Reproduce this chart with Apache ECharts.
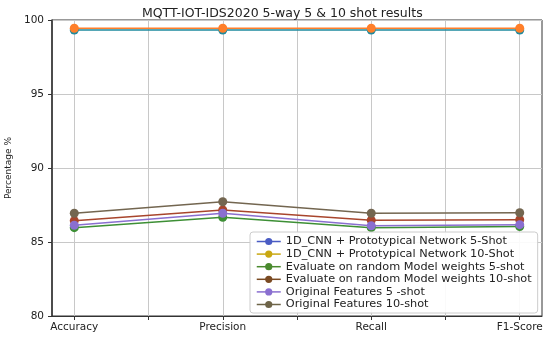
<!DOCTYPE html>
<html><head><meta charset="utf-8">
<script src="https://cdn.jsdelivr.net/npm/echarts@6/dist/echarts.min.js"></script>
<style>html,body{margin:0;padding:0;background:#fff}#c{width:550px;height:337px}</style>
</head><body><div id="c"></div>
<script>
const categories = ['Accuracy', 'Precision', 'Recall', 'F1-Score'];
const seriesNames = [
  '1D_CNN + Prototypical Network 5-Shot',
  '1D_CNN + Prototypical Network 10-Shot',
  'Evaluate on random Model weights 5-shot',
  'Evaluate on random Model weights 10-shot',
  'Original Features 5 -shot',
  'Original Features 10-shot'
];
const cnn5 = [99.32, 99.32, 99.32, 99.32];
const cnn10 = [99.44, 99.44, 99.44, 99.44];
const eval5 = [85.97, 86.67, 85.97, 86.04];
const eval10 = [86.44, 87.16, 86.47, 86.50];
const orig5 = [86.13, 86.94, 86.10, 86.17];
const orig10 = [86.94, 87.72, 86.94, 86.98];
const yTicks = [80, 85, 90, 95, 100];

const values = [cnn5, cnn10, eval5, eval10, orig5, orig10];
const lineColors = ['#1f8a9e', '#ff7f2a', '#3d8f35', '#a8452c', '#8a6fd0', '#736650'];
const legendColors = ['#4a5cc4', '#c9a812', '#4a8a2e', '#7a4a22', '#8a6fd0', '#6e6448'];

const chart = echarts.init(document.getElementById('c'));
const font = 'DejaVu Sans';
chart.setOption({
  animation: false,
  textStyle: { fontFamily: font },
  title: {
    text: 'MQTT-IOT-IDS2020 5-way 5 & 10 shot results',
    left: 137, top: 2,
    textStyle: { fontSize: 12.5, fontWeight: 'normal', color: '#222', fontFamily: font }
  },
  grid: { left: 52, right: 8, top: 20, bottom: 21, show: true, borderColor: '#333', borderWidth: 1,
          containLabel: false, outerBoundsMode: 'none' },
  legend: {
    orient: 'vertical', left: 250, top: 232,
    itemWidth: 24, itemHeight: 9, itemGap: 1.6,
    padding: [4, 6, 3, 6],
    backgroundColor: 'rgba(255,255,255,0.9)', borderColor: '#ccc', borderWidth: 1, borderRadius: 3,
    textStyle: { fontSize: 11.3, lineHeight: 10, color: '#222', fontFamily: font },
    data: seriesNames.map((n, i) => ({
      name: n,
      itemStyle: { color: legendColors[i] },
      lineStyle: { color: legendColors[i], width: 1.5 }
    }))
  },
  xAxis: {
    type: 'value', min: -0.15, max: 3.15,
    axisLine: { show: true, onZero: false, lineStyle: { color: '#333' } },
    axisTick: { show: true, length: 4, lineStyle: { color: '#333' }, customValues: [0, 0.5, 1, 1.5, 2, 2.5, 3] },
    axisLabel: {
      customValues: [0, 1, 2, 3], fontSize: 10.5, color: '#222', margin: 6,
      formatter: v => categories[Math.round(v)] || ''
    },
    splitLine: { show: true, lineStyle: { color: '#c8c8c8', width: 1 } }
  },
  yAxis: {
    type: 'value', min: yTicks[0], max: yTicks[yTicks.length - 1], interval: 5,
    name: 'Percentage %', nameLocation: 'middle', nameGap: 37, nameRotate: 90,
    nameTextStyle: { fontSize: 9, color: '#222' },
    axisLine: { show: true, onZero: false, lineStyle: { color: '#333', width: 1.5 } },
    axisTick: { show: true, length: 4, lineStyle: { color: '#333' } },
    axisLabel: { fontSize: 10.5, color: '#222', margin: 8 },
    splitLine: { show: true, lineStyle: { color: '#c8c8c8', width: 1 } }
  },
  series: seriesNames.map((n, i) => ({
    name: n, type: 'line',
    data: values[i].map((v, j) => [j, v]),
    symbol: 'circle', symbolSize: 9,
    lineStyle: { color: lineColors[i], width: 1.5 },
    itemStyle: { color: lineColors[i] }
  }))
});
</script></body></html>
